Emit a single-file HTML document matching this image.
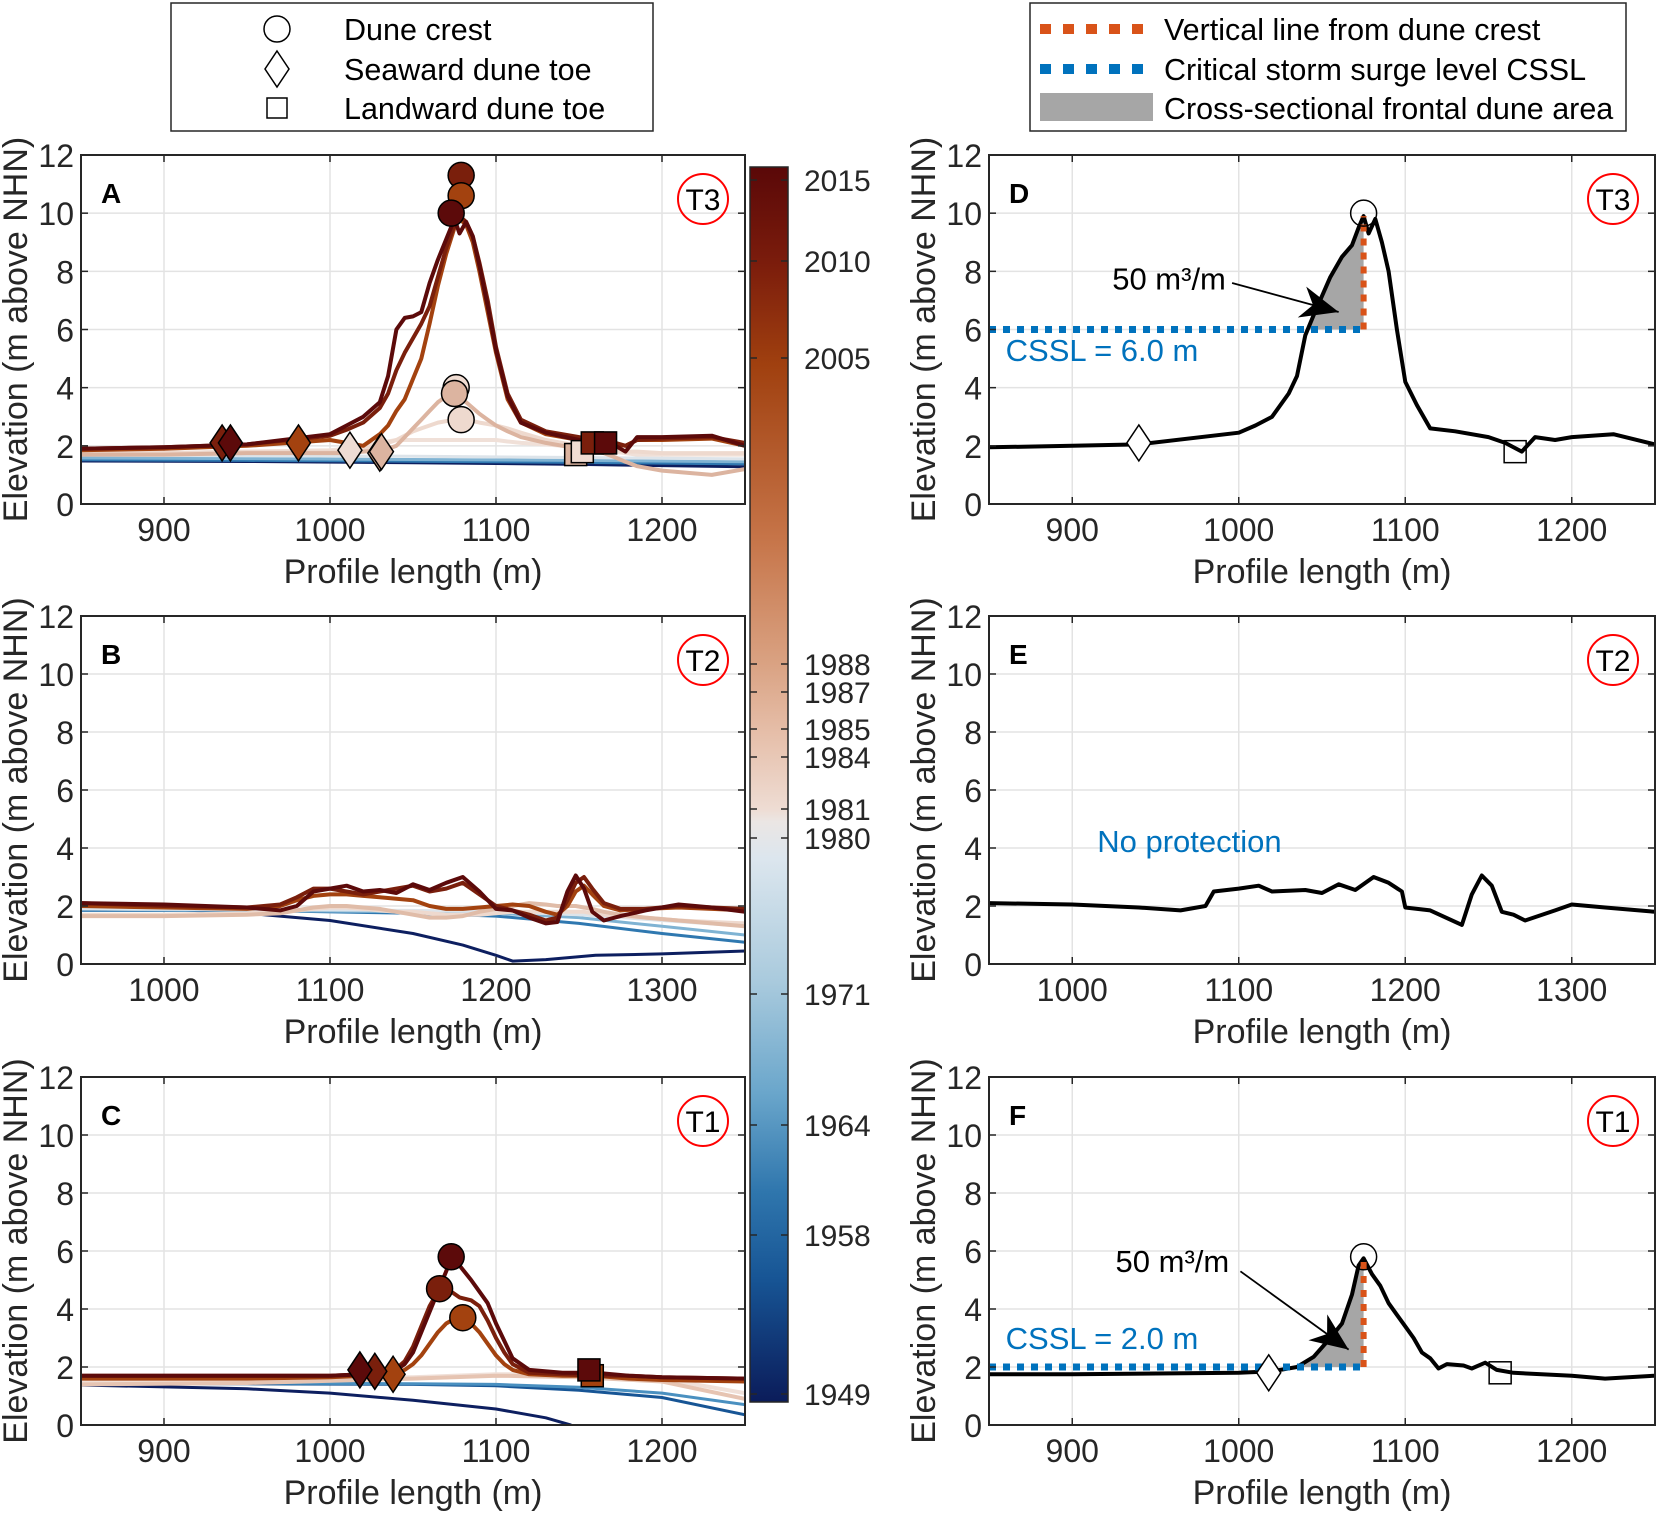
<!DOCTYPE html>
<html><head><meta charset="utf-8">
<style>
html,body{margin:0;padding:0;background:#fff;}
svg{display:block;font-family:"Liberation Sans",Arial,sans-serif;}
</style></head>
<body>
<svg id="fig" width="1659" height="1513" viewBox="0 0 1659 1513" xmlns="http://www.w3.org/2000/svg">
<defs>
<linearGradient id="cbgrad" x1="0" y1="0" x2="0" y2="1">
<stop offset="0" stop-color="#5a0808"/>
<stop offset="0.08" stop-color="#7c1d0c"/>
<stop offset="0.16" stop-color="#a0400f"/>
<stop offset="0.3" stop-color="#c67448"/>
<stop offset="0.4" stop-color="#d9a181"/>
<stop offset="0.46" stop-color="#e6bfaa"/>
<stop offset="0.52" stop-color="#eedcd3"/>
<stop offset="0.53" stop-color="#ebe6e4"/>
<stop offset="0.56" stop-color="#dce6ee"/>
<stop offset="0.66" stop-color="#a9cadd"/>
<stop offset="0.75" stop-color="#6aa6cb"/>
<stop offset="0.83" stop-color="#2f76ad"/>
<stop offset="0.9" stop-color="#175595"/>
<stop offset="1" stop-color="#0b1c5a"/>
</linearGradient>
</defs>
</svg>
<script>
// ---------- data ----------
const xTicksLeft = [900,1000,1100,1200];
const xTicksMid = [1000,1100,1200,1300];
const yTicks = [0,2,4,6,8,10,12];

// Panel A (T3)
const xA = [850,900,950,1000,1010,1020,1030,1035,1040,1045,1050,1055,1060,1065,1070,1075,1078,1082,1086,1090,1095,1100,1107,1115,1130,1150,1165,1172,1178,1185,1200,1230,1250];
const yA2015 = [1.9,1.95,2.05,2.4,2.7,3.0,3.5,4.4,6.0,6.4,6.45,6.6,7.6,8.4,9.1,9.8,9.3,9.7,9.2,8.2,6.8,5.3,3.7,2.8,2.45,2.2,2.1,2.0,1.8,2.3,2.3,2.35,2.0];
const yA2010 = [1.9,1.95,2.05,2.35,2.55,2.8,3.3,3.8,4.6,5.2,5.7,6.2,6.8,7.8,8.8,9.6,9.9,9.7,9.2,8.3,7.0,5.4,3.8,2.9,2.5,2.3,2.15,2.1,2.0,2.2,2.25,2.3,2.1];
const yA2005 = [1.85,1.9,2.0,2.2,2.1,2.0,2.4,2.7,3.2,3.6,4.3,5.0,6.2,7.5,8.6,9.5,9.8,9.6,9.0,8.0,6.6,5.2,3.6,2.8,2.4,2.2,2.1,2.05,2.0,2.2,2.2,2.25,2.0];
const yA1988 = [1.7,1.7,1.75,1.75,1.75,1.8,1.85,1.9,2.0,2.3,2.6,2.9,3.2,3.5,3.7,3.8,3.7,3.5,3.3,3.1,2.9,2.7,2.5,2.3,2.1,1.9,1.75,1.6,1.45,1.3,1.15,1.0,1.2];
const yA1985 = [1.75,1.75,1.8,1.8,1.85,1.9,2.0,2.1,2.2,2.35,2.5,2.6,2.7,2.8,2.85,2.9,2.9,2.9,2.85,2.8,2.75,2.7,2.6,2.45,2.2,2.0,1.9,1.85,1.8,1.8,1.75,1.75,1.75];
const yA1984 = [1.75,1.75,1.8,1.85,1.9,2.0,2.1,2.15,2.2,2.2,2.2,2.2,2.2,2.2,2.2,2.2,2.2,2.2,2.2,2.2,2.2,2.2,2.15,2.1,2.05,1.95,1.85,1.8,1.75,1.7,1.7,1.7,1.7];
const xAc = [850,950,1050,1150,1250];
const yA1980 = [1.68,1.66,1.64,1.6,1.55];
const yA1971 = [1.58,1.56,1.53,1.5,1.45];
const yA1964 = [1.52,1.5,1.47,1.43,1.38];
const yA1949 = [1.48,1.46,1.42,1.36,1.28];

// Panel B (T2)
const xB = [950,1000,1050,1070,1080,1090,1100,1110,1120,1130,1140,1150,1160,1170,1180,1190,1200,1210,1220,1230,1237,1243,1248,1253,1258,1265,1275,1290,1310,1330,1350];
const yB2015 = [2.1,2.05,1.95,1.85,2.0,2.5,2.6,2.7,2.5,2.55,2.45,2.75,2.55,2.8,3.0,2.5,1.9,1.85,1.6,1.4,1.45,2.5,3.05,2.6,1.8,1.5,1.65,1.85,2.05,1.95,1.8];
const yB2010 = [2.1,2.0,1.95,2.05,2.3,2.6,2.6,2.5,2.4,2.5,2.6,2.7,2.5,2.6,2.8,2.4,2.0,1.85,1.7,1.5,1.6,2.2,2.8,3.0,2.6,2.1,1.9,1.9,2.0,1.95,1.9];
const yB2005 = [2.0,1.95,1.9,2.0,2.2,2.35,2.4,2.4,2.35,2.3,2.25,2.2,2.0,1.9,1.9,1.95,2.0,2.05,2.0,1.8,1.7,2.0,2.5,2.7,2.4,2.0,1.85,1.9,1.95,1.9,1.85];
const yB1988 = [1.65,1.65,1.7,1.75,1.85,1.95,2.0,2.0,1.95,1.9,1.8,1.7,1.6,1.6,1.65,1.8,1.9,2.0,2.1,2.05,2.0,2.0,2.0,1.95,1.9,1.8,1.7,1.6,1.5,1.4,1.3];
const yB1985 = [1.7,1.7,1.75,1.8,1.85,1.9,1.95,1.95,1.9,1.85,1.8,1.8,1.75,1.7,1.7,1.7,1.75,1.8,1.8,1.8,1.8,1.8,1.8,1.8,1.75,1.7,1.65,1.6,1.5,1.45,1.4];
const xBc = [950,1050,1150,1200,1250,1300,1350];
const yB1980 = [1.9,1.88,1.85,1.8,1.7,1.5,1.3];
const yB1971 = [1.9,1.85,1.8,1.75,1.6,1.3,1.0];
const yB1964 = [1.85,1.85,1.75,1.65,1.4,1.05,0.75];
const xBn = [950,1000,1050,1100,1150,1180,1200,1210,1230,1260,1300,1350];
const yB1949 = [1.95,1.9,1.75,1.5,1.05,0.65,0.3,0.1,0.15,0.3,0.35,0.45];

// Panel C (T1)
const xC = [850,950,1000,1020,1030,1040,1045,1050,1055,1060,1065,1070,1073,1078,1085,1090,1095,1100,1105,1110,1120,1140,1160,1180,1200,1250];
const yC2015 = [1.7,1.7,1.7,1.75,1.8,1.9,2.1,2.5,3.2,3.9,4.6,5.3,5.8,5.5,5.0,4.6,4.2,3.5,2.9,2.3,1.9,1.8,1.8,1.7,1.65,1.6];
const yC2010 = [1.7,1.7,1.7,1.75,1.8,1.95,2.2,2.7,3.4,4.1,4.6,4.8,4.6,4.4,4.3,4.1,3.6,3.0,2.5,2.1,1.8,1.75,1.7,1.7,1.65,1.6];
const yC2005 = [1.6,1.6,1.65,1.7,1.7,1.8,1.9,2.1,2.4,2.8,3.2,3.5,3.6,3.7,3.5,3.2,2.8,2.4,2.1,1.9,1.75,1.7,1.7,1.6,1.55,1.5];
const xCc = [850,950,1050,1100,1150,1200,1250];
const yC1988 = [1.4,1.45,1.6,1.7,1.65,1.5,0.9];
const yC1985 = [1.5,1.55,1.65,1.75,1.75,1.6,1.1];
const yC1971 = [1.45,1.45,1.42,1.4,1.3,1.1,0.7];
const yC1964 = [1.42,1.42,1.4,1.35,1.2,0.95,0.35];
const xCn = [850,950,1000,1050,1100,1130,1145];
const yC1949 = [1.38,1.25,1.1,0.85,0.55,0.25,0.0];

// Panel D
const xD = [850,900,940,1000,1010,1020,1030,1035,1040,1045,1055,1062,1068,1072,1075,1078,1082,1086,1090,1095,1100,1107,1115,1130,1150,1160,1170,1178,1190,1200,1225,1250];
const yD = [1.95,2.0,2.05,2.45,2.7,3.0,3.8,4.4,5.8,6.5,7.8,8.5,8.9,9.5,9.9,9.3,9.8,9.0,8.0,6.0,4.2,3.4,2.6,2.5,2.3,2.1,1.8,2.3,2.2,2.3,2.4,2.05];
const xE = [950,1000,1040,1065,1080,1085,1100,1112,1120,1140,1150,1160,1170,1181,1190,1198,1200,1215,1234,1240,1246,1252,1258,1265,1272,1290,1300,1320,1350];
const yE = [2.1,2.05,1.95,1.85,2.0,2.5,2.6,2.7,2.5,2.55,2.45,2.75,2.55,3.0,2.8,2.5,1.95,1.85,1.35,2.4,3.05,2.7,1.8,1.7,1.5,1.85,2.05,1.95,1.8];
const xF = [850,900,1000,1020,1035,1045,1055,1062,1068,1072,1075,1080,1085,1090,1095,1100,1105,1110,1115,1120,1125,1135,1140,1148,1155,1165,1200,1220,1250];
const yF = [1.75,1.75,1.8,1.85,2.0,2.35,3.0,3.5,4.5,5.5,5.75,5.2,4.8,4.2,3.8,3.4,3.0,2.5,2.3,1.95,2.1,2.05,1.95,2.15,1.9,1.8,1.7,1.6,1.7];

// markers: [x, y]
const crestA = [[1079,11.3],[1079,10.6],[1073,10.0],[1076,4.0],[1075,3.8],[1079,2.9]];
const crestAcol = ['#7a1f0c','#a3420f','#5c0a0a','#f0dcd2','#dcb4a0','#eed9ce'];
const toeSeaA = [[1030,1.75],[1031,1.8],[1012,1.85],[981,2.1],[935,2.1],[940,2.1]];
const toeSeaAcol = ['#c89a85','#dcb4a0','#eedcd4','#a3420f','#7a1f0c','#5c0a0a'];
const toeLandA = [[1148,1.7],[1152,1.8],[1158,2.1],[1166,2.1]];
const toeLandAcol = ['#dcb4a0','#f0dcd2','#7a1f0c','#5c0a0a'];
const crestC = [[1080,3.7],[1066,4.7],[1073,5.8]];
const crestCcol = ['#a3420f','#7a1f0c','#5c0a0a'];
const toeSeaC = [[1038,1.75],[1027,1.85],[1018,1.9]];
const toeSeaCcol = ['#a3420f','#7a1f0c','#5c0a0a'];
const toeLandC = [[1158,1.7],[1156,1.9]];
const toeLandCcol = ['#a3420f','#5c0a0a'];
const cbYears = ['2015','2010','2005','1988','1987','1985','1984','1981','1980','1971','1964','1958','1949'];
const cbLabelY = [180,261,358,664,692,729,757,809,838,994,1125,1235,1394];

// ---------- helpers ----------
const NS = 'http://www.w3.org/2000/svg';
const svg = document.getElementById('fig');
function mk(tag, attrs, parent){
  const e = document.createElementNS(NS, tag);
  for (const k in attrs) e.setAttribute(k, attrs[k]);
  (parent||svg).appendChild(e);
  return e;
}
function txt(s, attrs, parent){ const e = mk('text', attrs, parent); e.textContent = s; return e; }

function makeAxes(id, left, right, top, bottom, xmin, xmax, xticks, letter, tlabel){
  const ax = {id, left, right, top, bottom, xmin, xmax};
  ax.sx = v => left + (v - xmin) / (xmax - xmin) * (right - left);
  ax.sy = v => bottom - v / 12 * (bottom - top);
  const g = mk('g', {});
  
  
  ax.g = g;
  const cp = mk('clipPath', {id: 'clip' + id}, g);
  mk('rect', {x: left, y: top, width: right - left, height: bottom - top}, cp);
  for (const t of xticks) {
    const l = mk('line', {x1: ax.sx(t), x2: ax.sx(t), y1: top, y2: bottom, stroke: '#e3e3e3', 'stroke-width': 1.5}, g);
    
    
  }
  for (const t of yTicks) {
    const l = mk('line', {x1: left, x2: right, y1: ax.sy(t), y2: ax.sy(t), stroke: '#e3e3e3', 'stroke-width': 1.5}, g);
    
    
  }
  ax.plot = mk('g', {'clip-path': 'url(#clip' + id + ')'}, g);
  ax.top_ = mk('g', {}, g);
  for (const t of xticks) {
    const e = txt(String(t), {x: ax.sx(t), y: bottom + 37, 'font-size': 32, 'text-anchor': 'middle', fill: '#262626'}, g);
    
    
    mk('line', {x1: ax.sx(t), x2: ax.sx(t), y1: bottom, y2: bottom - 7, stroke: '#262626', 'stroke-width': 1.5}, g);
    mk('line', {x1: ax.sx(t), x2: ax.sx(t), y1: top, y2: top + 7, stroke: '#262626', 'stroke-width': 1.5}, g);
  }
  for (const t of yTicks) {
    const e = txt(String(t), {x: left - 7, y: ax.sy(t) + 12, 'font-size': 32, 'text-anchor': 'end', fill: '#262626'}, g);
    
    
    mk('line', {x1: left, x2: left + 7, y1: ax.sy(t), y2: ax.sy(t), stroke: '#262626', 'stroke-width': 1.5}, g);
    mk('line', {x1: right, x2: right - 7, y1: ax.sy(t), y2: ax.sy(t), stroke: '#262626', 'stroke-width': 1.5}, g);
  }
  const xt = txt('Profile length (m)', {x: (left + right) / 2, y: bottom + 79, 'font-size': 34, 'text-anchor': 'middle', fill: '#262626'}, g);
  
  
  const cy = (top + bottom) / 2;
  const yx = left - 54;
  const yt = txt('Elevation (m above NHN)', {x: yx, y: cy, 'font-size': 34, 'text-anchor': 'middle', fill: '#262626', transform: 'rotate(-90 ' + yx + ' ' + cy + ')'}, g);
  
  
  const lt = txt(letter, {x: left + 20, y: top + 48, 'font-size': 28, 'font-weight': 'bold', fill: '#000'}, g);
  
  
  const tc = mk('ellipse', {cx: right - 42, cy: top + 44, rx: 25, ry: 25, fill: 'none', stroke: '#ff0000', 'stroke-width': 2}, g);
  
  
  const tt = txt(tlabel, {x: right - 42, y: top + 55, 'font-size': 30, 'text-anchor': 'middle', fill: '#000'}, g);
  
  
  ax.finish = () => {
    const b = mk('rect', {x: left, y: top, width: right - left, height: bottom - top, fill: 'none', stroke: '#262626', 'stroke-width': 2}, g);
    
    
  };
  return ax;
}
function line(ax, xs, ys, color, w, name){
  const d = xs.map((x, i) => (i ? 'L' : 'M') + ax.sx(x).toFixed(1) + ' ' + ax.sy(ys[i]).toFixed(1)).join(' ');
  const p = mk('path', {d, fill: 'none', stroke: color, 'stroke-width': w, 'stroke-linejoin': 'round', 'stroke-linecap': 'round'}, ax.plot);
  
  
  return p;
}
function circleM(ax, pt, fill, name, r){
  const c = mk('circle', {cx: ax.sx(pt[0]), cy: ax.sy(pt[1]), r: r || 13, fill, stroke: '#000', 'stroke-width': 1.5}, ax.top_);
  
  
}
function diamondM(ax, pt, fill, name){
  const x = ax.sx(pt[0]), y = ax.sy(pt[1]);
  const p = mk('polygon', {points: `${x},${y-18} ${x+12},${y} ${x},${y+18} ${x-12},${y}`, fill, stroke: '#000', 'stroke-width': 1.5}, ax.top_);
  
  
}
function squareM(ax, pt, fill, name){
  const x = ax.sx(pt[0]), y = ax.sy(pt[1]);
  const p = mk('rect', {x: x - 11, y: y - 11, width: 22, height: 22, fill, stroke: '#000', 'stroke-width': 1.5}, ax.top_);
  
  
}
function fillArea(ax, xs, ys, xcrest, level){
  const pts = [];
  for (let i = 0; i < xs.length - 1; i++) {
    const x0 = xs[i], x1 = xs[i+1], y0 = ys[i], y1 = ys[i+1];
    if (x0 >= xcrest) break;
    if ((y0 - level) * (y1 - level) < 0) {
      const xi = x0 + (level - y0) / (y1 - y0) * (x1 - x0);
      pts.push([xi, level]);
    }
    if (y1 >= level && x1 <= xcrest) pts.push([x1, y1]);
  }
  pts.push([xcrest, level]);
  const p = mk('polygon', {points: pts.map(q => ax.sx(q[0]).toFixed(1) + ',' + ax.sy(q[1]).toFixed(1)).join(' '), fill: '#a6a6a6', stroke: 'none'}, ax.plot);
  
  
}
function arrow(ax, x0, y0, x1, y1){
  const X0 = ax.sx(x0), Y0 = ax.sy(y0), X1 = ax.sx(x1), Y1 = ax.sy(y1);
  const l = mk('line', {x1: X0, y1: Y0, x2: X1, y2: Y1, stroke: '#000', 'stroke-width': 1.8}, ax.top_);
  
  
  const a = Math.atan2(Y1 - Y0, X1 - X0), L = 38, W = 16;
  const bx = X1 - L * Math.cos(a), by = Y1 - L * Math.sin(a);
  const mx = X1 - L * 0.7 * Math.cos(a), my = Y1 - L * 0.7 * Math.sin(a);
  const h = mk('polygon', {points: `${X1},${Y1} ${bx - W*Math.sin(a)},${by + W*Math.cos(a)} ${mx},${my} ${bx + W*Math.sin(a)},${by - W*Math.cos(a)}`, fill: '#000'}, ax.top_);
  
  
}

// ---------- panels ----------
const L0 = 81, L1 = 745, R0 = 989, R1 = 1655;
const rows = [[155, 504], [616, 964], [1077, 1425]];

const A = makeAxes('A', L0, L1, rows[0][0], rows[0][1], 850, 1250, xTicksLeft, 'A', 'T3');
line(A, xAc, yA1949, '#0d1f60', 3, 'profile-1949');
line(A, xAc, yA1964, '#2f78b0', 3, 'profile-1964');
line(A, xAc, yA1971, '#7fb3d3', 3, 'profile-1971');
line(A, xAc, yA1980, '#dde4ea', 3, 'profile-1980');
line(A, xA, yA1984, '#f0e0d8', 4, 'profile-1984');
line(A, xA, yA1985, '#eed9ce', 4, 'profile-1985');
line(A, xA, yA1988, '#dcb4a0', 4, 'profile-1988');
line(A, xA, yA2005, '#a3420f', 4, 'profile-2005');
line(A, xA, yA2010, '#7a1f0c', 4, 'profile-2010');
line(A, xA, yA2015, '#5c0a0a', 4, 'profile-2015');
crestA.forEach((p, i) => circleM(A, p, crestAcol[i], 'dune-crest-marker'));
toeSeaA.forEach((p, i) => diamondM(A, p, toeSeaAcol[i], 'seaward-toe-marker'));
toeLandA.forEach((p, i) => squareM(A, p, toeLandAcol[i], 'landward-toe-marker'));
A.finish();

const B = makeAxes('B', L0, L1, rows[1][0], rows[1][1], 950, 1350, xTicksMid, 'B', 'T2');
line(B, xBn, yB1949, '#0d1f60', 3, 'profile-1949');
line(B, xBc, yB1964, '#2f78b0', 3, 'profile-1964');
line(B, xBc, yB1971, '#7fb3d3', 3, 'profile-1971');
line(B, xBc, yB1980, '#dde4ea', 3, 'profile-1980');
line(B, xB, yB1985, '#eed9ce', 4, 'profile-1985');
line(B, xB, yB1988, '#e0bca8', 4, 'profile-1988');
line(B, xB, yB2005, '#a3420f', 4, 'profile-2005');
line(B, xB, yB2010, '#7a1f0c', 4, 'profile-2010');
line(B, xB, yB2015, '#5c0a0a', 4, 'profile-2015');
B.finish();

const C = makeAxes('C', L0, L1, rows[2][0], rows[2][1], 850, 1250, xTicksLeft, 'C', 'T1');
line(C, xCn, yC1949, '#0d1f60', 3, 'profile-1949');
line(C, xCc, yC1964, '#175595', 3, 'profile-1964');
line(C, xCc, yC1971, '#4a90c0', 3, 'profile-1971');
line(C, xCc, yC1985, '#f0e0d8', 4, 'profile-1985');
line(C, xCc, yC1988, '#e6c4b2', 4, 'profile-1988');
line(C, xC, yC2005, '#a3420f', 4, 'profile-2005');
line(C, xC, yC2010, '#7a1f0c', 4, 'profile-2010');
line(C, xC, yC2015, '#5c0a0a', 4, 'profile-2015');
crestC.forEach((p, i) => circleM(C, p, crestCcol[i], 'dune-crest-marker'));
toeSeaC.forEach((p, i) => diamondM(C, p, toeSeaCcol[i], 'seaward-toe-marker'));
toeLandC.forEach((p, i) => squareM(C, p, toeLandCcol[i], 'landward-toe-marker'));
C.finish();

const D = makeAxes('D', R0, R1, rows[0][0], rows[0][1], 850, 1250, xTicksLeft, 'D', 'T3');
fillArea(D, xD, yD, 1075, 6.0);
line(D, xD, yD, '#000', 4, 'profile-2015-black');
const cssD = mk('line', {x1: D.sx(850), x2: D.sx(1075), y1: D.sy(6), y2: D.sy(6), stroke: '#0072bd', 'stroke-width': 7, 'stroke-dasharray': '7 7'}, D.top_);


const vD = mk('line', {x1: D.sx(1075), x2: D.sx(1075), y1: D.sy(6), y2: D.sy(9.9), stroke: '#d95319', 'stroke-width': 6, 'stroke-dasharray': '7 7'}, D.top_);


circleM(D, [1075, 10.0], 'none', 'dune-crest-marker');
diamondM(D, [940, 2.1], '#fff', 'seaward-toe-marker');
squareM(D, [1166, 1.8], 'none', 'landward-toe-marker');
arrow(D, 996, 7.6, 1060, 6.6);
const tD = txt('50 m³/m', {x: D.sx(924), y: D.sy(7.75) + 11, 'font-size': 31, fill: '#000'}, D.top_);


const cD = txt('CSSL = 6.0 m', {x: D.sx(860), y: D.sy(5.3) + 11, 'font-size': 31, fill: '#0072bd'}, D.top_);


D.finish();

const E = makeAxes('E', R0, R1, rows[1][0], rows[1][1], 950, 1350, xTicksMid, 'E', 'T2');
line(E, xE, yE, '#000', 4, 'profile-2015-black');
const nE = txt('No protection', {x: E.sx(1015), y: E.sy(4.25) + 11, 'font-size': 31, fill: '#0072bd'}, E.top_);


E.finish();

const F = makeAxes('F', R0, R1, rows[2][0], rows[2][1], 850, 1250, xTicksLeft, 'F', 'T1');
fillArea(F, xF, yF, 1075, 2.0);
line(F, xF, yF, '#000', 4, 'profile-2015-black');
const cssF = mk('line', {x1: F.sx(850), x2: F.sx(1075), y1: F.sy(2), y2: F.sy(2), stroke: '#0072bd', 'stroke-width': 7, 'stroke-dasharray': '7 7'}, F.top_);


const vF = mk('line', {x1: F.sx(1075), x2: F.sx(1075), y1: F.sy(2), y2: F.sy(5.75), stroke: '#d95319', 'stroke-width': 6, 'stroke-dasharray': '7 7'}, F.top_);


circleM(F, [1075, 5.8], 'none', 'dune-crest-marker');
diamondM(F, [1018, 1.8], '#fff', 'seaward-toe-marker');
squareM(F, [1157, 1.8], 'none', 'landward-toe-marker');
arrow(F, 1001, 5.3, 1066, 2.6);
const tF = txt('50 m³/m', {x: F.sx(926), y: F.sy(5.65) + 11, 'font-size': 31, fill: '#000'}, F.top_);


const cF = txt('CSSL = 2.0 m', {x: F.sx(860), y: F.sy(3.0) + 11, 'font-size': 31, fill: '#0072bd'}, F.top_);


F.finish();

// ---------- colorbar ----------
const cbg = mk('g', {});


const CBX = 750, CBW = 38, CBT = 167, CBB = 1402;
const cbr = mk('rect', {x: CBX, y: CBT, width: CBW, height: CBB - CBT, fill: 'url(#cbgrad)', stroke: '#262626', 'stroke-width': 1.5}, cbg);


cbYears.forEach((yr, i) => {
  const y = cbLabelY[i];
  mk('line', {x1: CBX + CBW - 7, x2: CBX + CBW, y1: y, y2: y, stroke: '#262626', 'stroke-width': 1.5}, cbg);
  mk('line', {x1: CBX, x2: CBX + 7, y1: y, y2: y, stroke: '#262626', 'stroke-width': 1.5}, cbg);
  const t = txt(yr, {x: 804, y: y + 11, 'font-size': 30, fill: '#262626'}, cbg);
  
  
});

// ---------- legends ----------
const lg1 = mk('g', {});


mk('rect', {x: 171, y: 3, width: 482, height: 128, fill: '#fff', stroke: '#262626', 'stroke-width': 1.5}, lg1);
const leg1 = [['Dune crest', 29], ['Seaward dune toe', 69], ['Landward dune toe', 108]];
mk('circle', {cx: 277, cy: 29, r: 13, fill: 'none', stroke: '#000', 'stroke-width': 1.5}, lg1);
mk('polygon', {points: '277,51 289,69 277,87 265,69', fill: 'none', stroke: '#000', 'stroke-width': 1.5}, lg1);
mk('rect', {x: 267, y: 98, width: 20, height: 20, fill: 'none', stroke: '#000', 'stroke-width': 1.5}, lg1);
leg1.forEach(e => {
  const t = txt(e[0], {x: 344, y: e[1] + 11, 'font-size': 30.5, fill: '#000'}, lg1);
  
  
});
const lg2 = mk('g', {});


mk('rect', {x: 1030, y: 3, width: 596, height: 128, fill: '#fff', stroke: '#262626', 'stroke-width': 1.5}, lg2);
mk('line', {x1: 1040, x2: 1150, y1: 29, y2: 29, stroke: '#d95319', 'stroke-width': 10, 'stroke-dasharray': '11 12'}, lg2);
mk('line', {x1: 1040, x2: 1150, y1: 69, y2: 69, stroke: '#0072bd', 'stroke-width': 10, 'stroke-dasharray': '11 12'}, lg2);
mk('rect', {x: 1040, y: 93, width: 113, height: 28, fill: '#a6a6a6'}, lg2);
[['Vertical line from dune crest', 29], ['Critical storm surge level CSSL', 69], ['Cross-sectional frontal dune area', 108]].forEach(e => {
  const t = txt(e[0], {x: 1164, y: e[1] + 11, 'font-size': 30.5, fill: '#000'}, lg2);
  
  
});
</script>
</body></html>
